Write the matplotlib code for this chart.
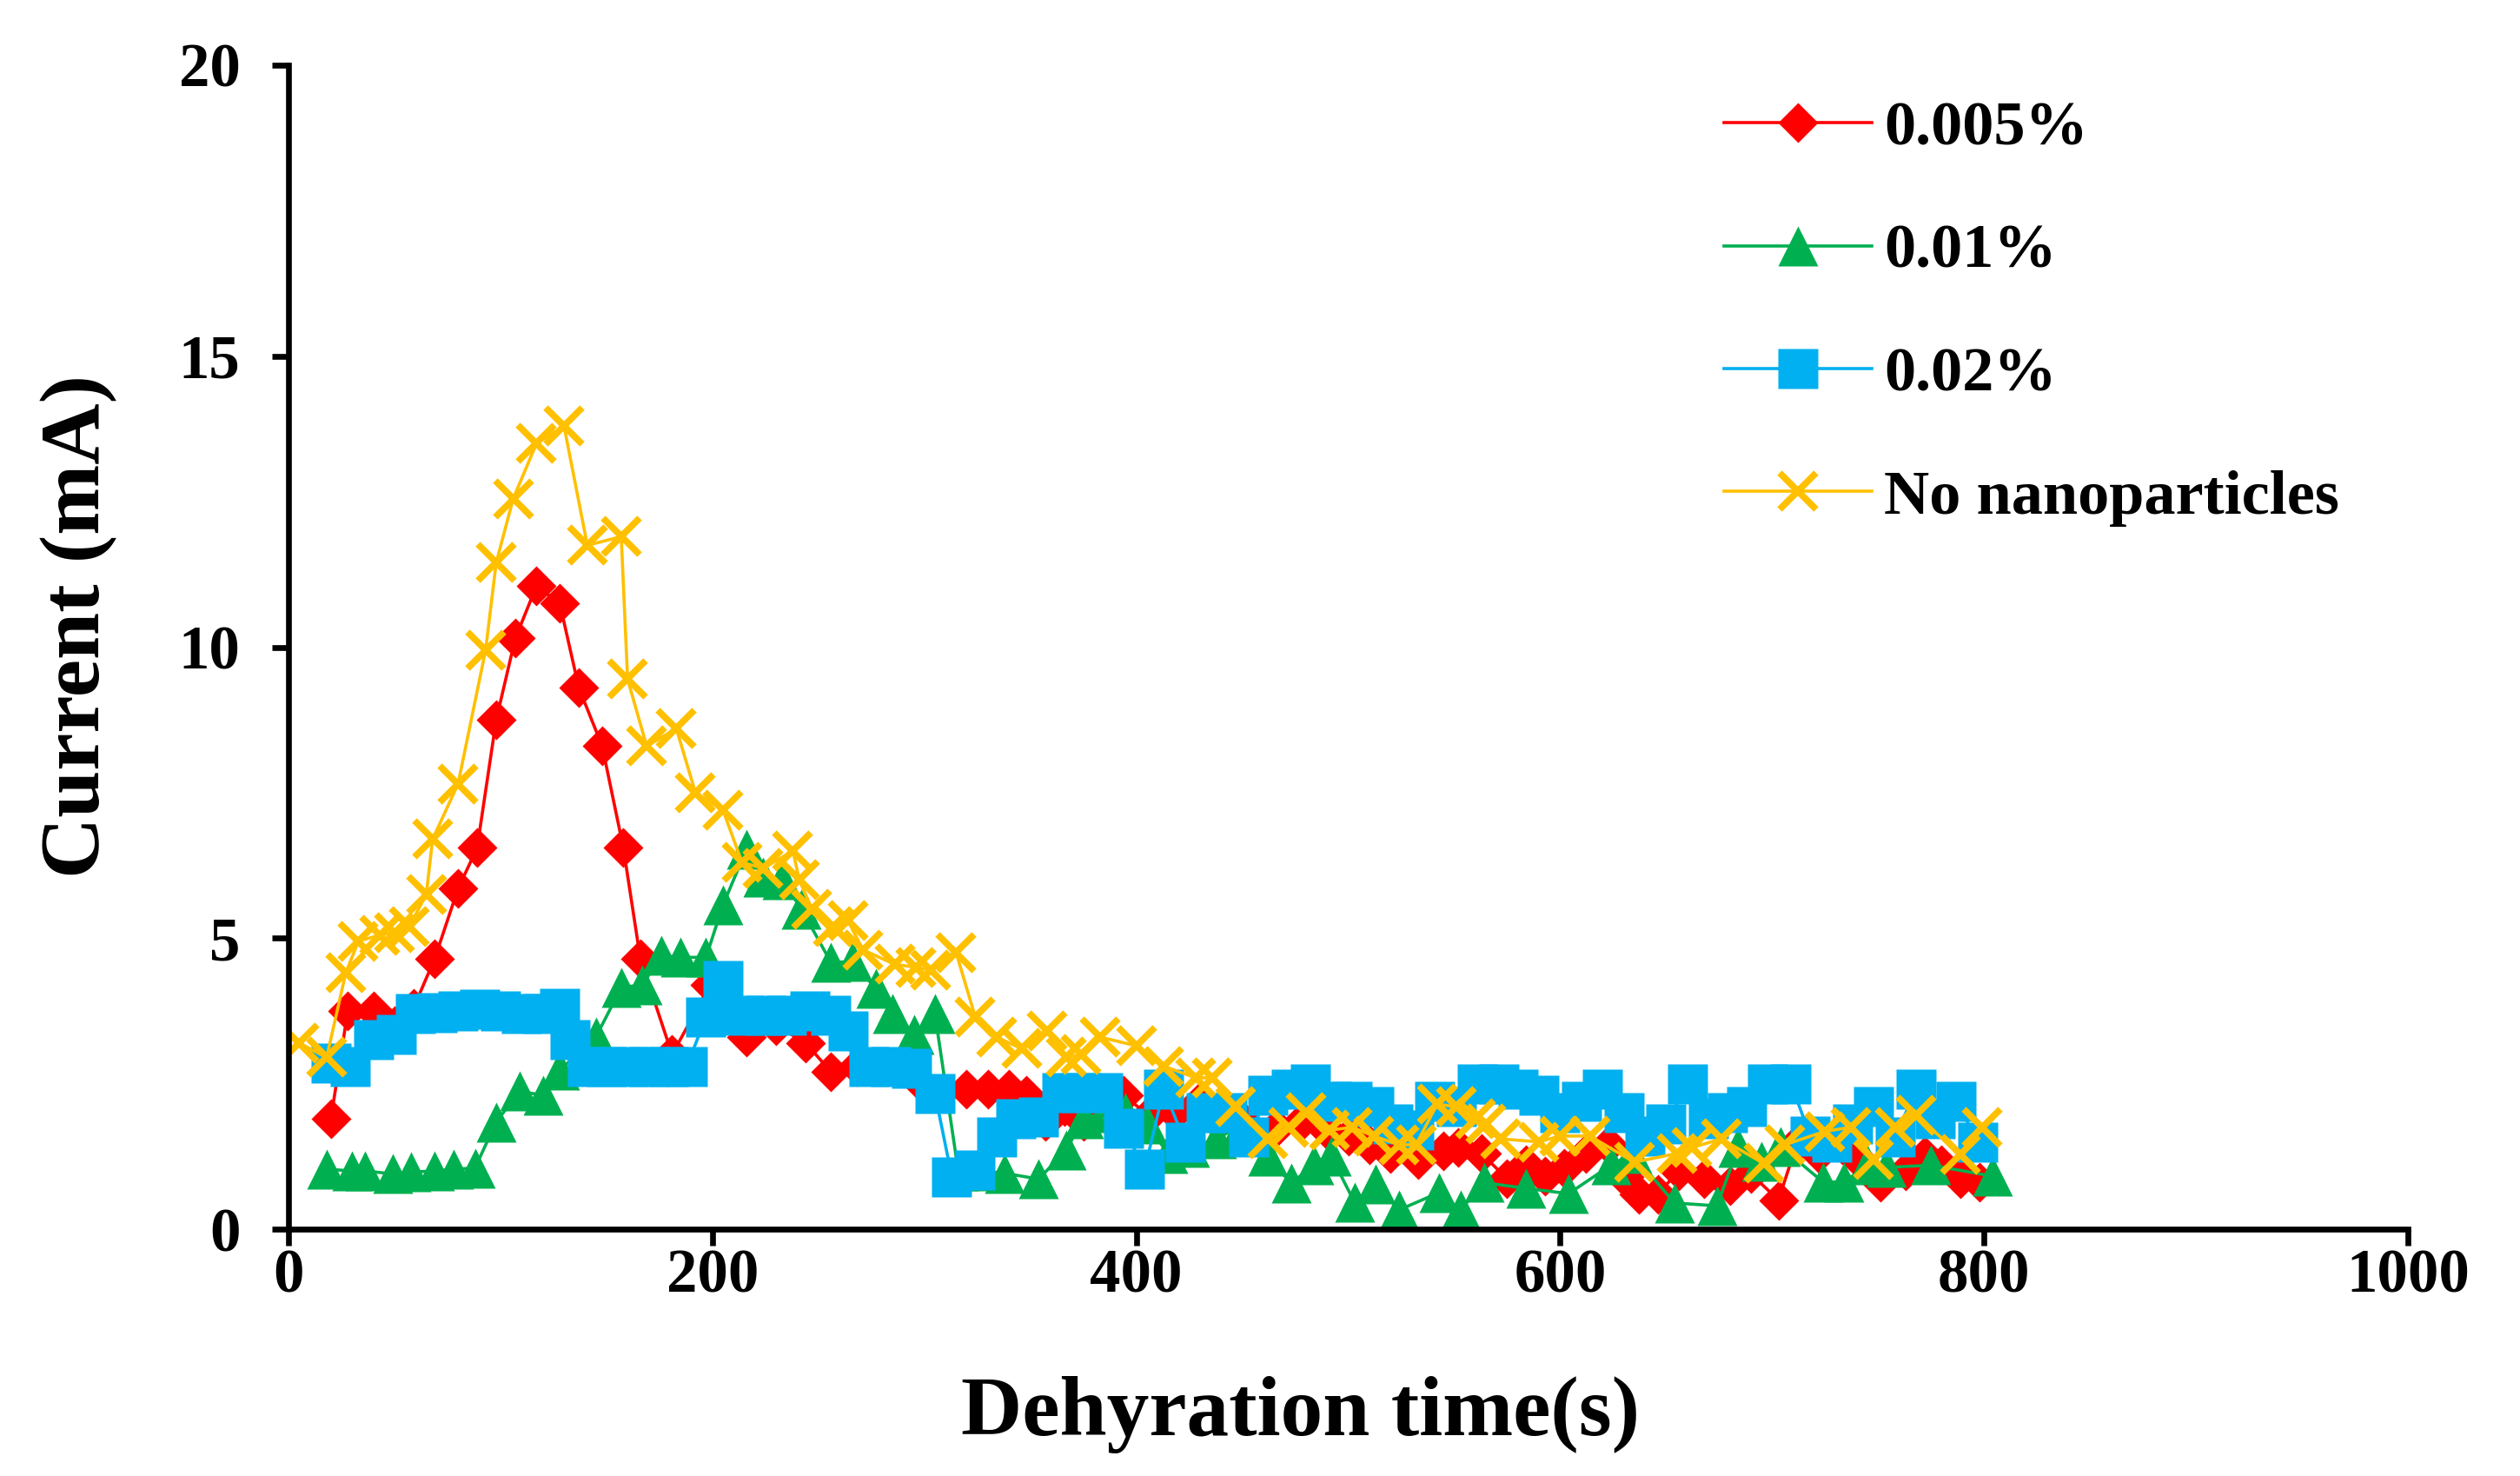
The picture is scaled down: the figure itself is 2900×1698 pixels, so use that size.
import matplotlib
matplotlib.use('Agg')
import matplotlib.pyplot as plt

# 0.005 %
red_t = [20, 28, 40, 50, 59, 69, 80, 89, 98, 107,
         117, 128, 137, 148, 158, 166, 181, 199, 216, 230,
         244, 256, 268, 280, 296, 320, 330, 340, 348, 357,
         366, 375, 385, 394, 406, 418, 430, 440, 452, 466,
         478, 490, 500, 510, 520, 533, 545, 552, 563, 575,
         584, 593, 602, 612, 623, 630, 637, 646, 656, 668,
         680, 690, 703, 712, 722, 733, 741, 751, 763, 772,
         780, 789, 798]
red_i = [1.9, 3.75, 3.75, 3.5, 3.8, 4.65, 5.85, 6.55, 8.75, 10.15,
         11.05, 10.75, 9.3, 8.3, 6.55, 4.65, 3.0, 4.2, 3.3, 3.5,
         3.2, 2.7, 2.8, 2.8, 2.6, 2.4, 2.4, 2.4, 2.3, 1.85,
         2.1, 1.85, 2.0, 2.3, 1.95, 2.0, 2.2, 2.0, 1.8, 1.75,
         1.85, 1.7, 1.6, 1.45, 1.3, 1.2, 1.35, 1.4, 1.3, 0.86,
         1.1, 0.91, 1.05, 1.3, 1.45, 0.9, 0.6, 0.6, 1.0, 0.86,
         0.75, 0.95, 0.5, 1.5, 1.3, 1.45, 1.2, 0.8, 1.0, 1.25,
         1.1, 0.87, 0.8]

# 0.01 %
green_t = [18, 30, 36, 49, 58, 69, 78, 88, 98, 109,
           120, 128, 145, 157, 167, 176, 185, 197, 205, 216,
           224, 233, 242, 256, 266, 277, 285, 295, 305, 316,
           327, 338, 354, 367, 375, 385, 395, 405, 415, 425,
           438, 450, 462, 473, 484, 492, 503, 513, 524, 543,
           553, 564, 584, 604, 624, 634, 654, 674, 684, 695,
           704, 724, 734, 745, 754, 775, 804]
green_i = [1.03, 1.0, 1.0, 0.95, 0.98, 1.0, 1.03, 1.05, 1.84, 2.37,
           2.3, 2.73, 3.3, 4.15, 4.2, 4.7, 4.67, 4.67, 5.57, 6.52,
           6.05, 6.0, 5.5, 4.58, 4.6, 4.14, 3.7, 3.35, 3.7, 1.0,
           1.0, 0.96, 0.86, 1.36, 1.9, 2.0, 2.0, 1.8, 1.3, 1.4,
           1.55, 1.8, 1.25, 0.79, 1.1, 1.25, 0.46, 0.78, 0.33, 0.63,
           0.33, 0.8, 0.7, 0.61, 1.1, 1.3, 0.45, 0.4, 1.4, 1.17,
           1.42, 0.81, 0.81, 1.1, 1.06, 1.1, 0.91]

# 0.02 %
blue_t = [20, 29, 40, 51, 60, 70, 80, 90, 100, 110,
          120, 128, 133, 141, 150, 160, 170, 179, 188, 197,
          205, 215, 225, 235, 246, 256, 264, 274, 284, 294,
          305, 313, 324, 334, 343, 354, 365, 374, 384, 394,
          404, 413, 423, 433, 443, 453, 462, 473, 482, 492,
          502, 512, 521, 531, 541, 551, 561, 571, 580, 590,
          600, 610, 620, 630, 640, 650, 660, 670, 679, 688,
          698, 709, 718, 728, 738, 748, 758, 768, 777, 787,
          797]
blue_i = [2.85, 2.8, 3.25, 3.35, 3.7, 3.72, 3.75, 3.78, 3.75, 3.7,
          3.7, 3.8, 3.25, 2.8, 2.8, 2.8, 2.8, 2.8, 2.8, 3.65,
          4.27, 3.67, 3.67, 3.67, 3.75, 3.67, 3.4, 2.8, 2.8, 2.77,
          2.33, 0.9, 1.02, 1.59, 1.89, 1.92, 2.34, 2.34, 2.34, 1.73,
          1.03, 2.4, 1.5, 2.0, 2.0, 1.58, 2.3, 2.4, 2.5, 2.2,
          2.2, 2.1, 1.8, 1.7, 2.2, 2.1, 2.5, 2.5, 2.4, 2.3,
          2.0, 2.2, 2.4, 2.0, 1.6, 1.8, 2.5, 1.9, 2.0, 2.1,
          2.5, 2.49, 1.6, 1.5, 1.8, 2.1, 1.59, 2.4, 1.9, 2.2,
          1.5]

# no nanoparticles
yel_t = [5, 18, 27, 33, 43, 50, 57, 65, 68, 80,
         93, 98, 106, 117, 130, 141, 157, 160, 169, 183,
         192, 205, 214, 224, 238, 241, 247, 257, 264, 271,
         286, 296, 303, 315, 324, 334, 346, 358, 367, 374,
         383, 400, 413, 428, 436, 447, 462, 472, 480, 491,
         502, 512, 524, 532, 542, 551, 560, 565, 572, 590,
         600, 614, 635, 655, 662, 676, 696, 706, 725, 737,
         748, 758, 768, 789, 799]
yel_i = [3.2, 2.95, 4.4, 4.95, 5.05, 5.1, 5.2, 5.75, 6.7, 7.65,
         9.95, 11.45, 12.55, 13.5, 13.8, 11.75, 11.9, 9.45, 8.3, 8.6,
         7.5, 7.2, 6.3, 6.2, 6.5, 6.0, 5.5, 5.2, 5.3, 4.8,
         4.55, 4.5, 4.45, 4.75, 3.65, 3.3, 3.1, 3.4, 2.95, 3.0,
         3.3, 3.15, 2.8, 2.6, 2.6, 2.1, 1.55, 1.75, 2.0, 1.7,
         1.75, 1.6, 1.45, 1.45, 2.15, 2.1, 1.9, 1.8, 1.55, 1.5,
         1.6, 1.6, 1.15, 1.3, 1.4, 1.55, 1.13, 1.45, 1.68, 1.75,
         1.2, 1.75, 1.95, 1.28, 1.75]

labels = ['0.005%', '0.01%', '0.02%', 'No nanoparticles']
x_ticks = [0, 200, 400, 600, 800, 1000]
y_ticks = [0, 5, 10, 15, 20]

plt.rcParams['font.family'] = ['Liberation Serif', 'DejaVu Serif']
plt.rcParams['font.weight'] = 'bold'

W, H = 2900, 1698
fig = plt.figure(figsize=(W / 100, H / 100), dpi=100)
ax = fig.add_axes([332 / W, 1 - 1414 / H, 2439 / W, 1339 / H])

lw = 2.6
ax.plot(red_t, red_i, color='#FF0000', lw=lw, marker='D', ms=23,
        mec='none', label=labels[0])
ax.plot(green_t, green_i, color='#00B050', lw=lw, marker='^', ms=33,
        mec='none', label=labels[1])
ax.plot(blue_t, blue_i, color='#00B0F0', lw=lw, marker='s', ms=33,
        mec='none', label=labels[2])
ax.plot(yel_t, yel_i, color='#FFC000', lw=lw, marker='x', ms=30,
        mew=5.5, label=labels[3])

ax.set_xlim(0, 1000)
ax.set_ylim(0, 20)
ax.set_xticks(x_ticks)
ax.set_yticks(y_ticks)
ax.tick_params(axis='both', direction='out', length=14, width=4.8,
               labelsize=51, color='black')
ax.tick_params(axis='y', pad=26)
ax.tick_params(axis='x', pad=2)
for s in ['top', 'right']:
    ax.spines[s].set_visible(False)
for s in ['left', 'bottom']:
    ax.spines[s].set_linewidth(4.8)

fig.text(91 / W, 1 - 721 / H, 'Current (mA)', rotation=90,
         ha='center', va='center', fontsize=70, fontweight='bold')
fig.text(1497 / W, 1 - 1628 / H, 'Dehyration time(s)',
         ha='center', va='center', fontsize=70, fontweight='bold')

leg = fig.legend(loc='upper left', bbox_to_anchor=(1984 / W, 1 - 116 / H),
                 bbox_transform=fig.transFigure, frameon=False, fontsize=52,
                 handlelength=2.35, handletextpad=0.2, labelspacing=1.05,
                 borderpad=0, borderaxespad=0, numpoints=1)

plt.savefig('out.png', dpi=100)
